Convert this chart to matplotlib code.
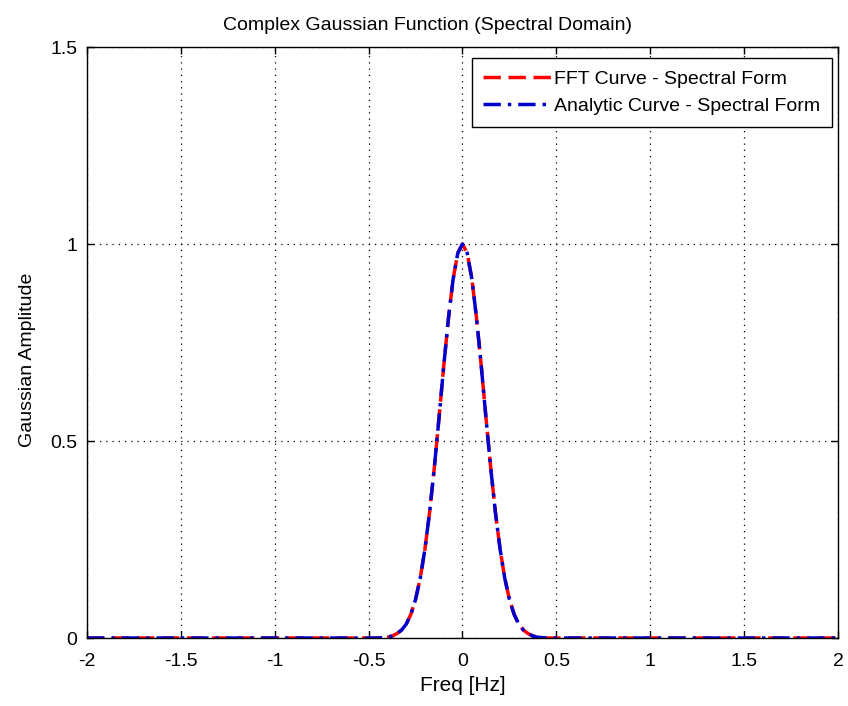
import numpy as np
import matplotlib
matplotlib.use('Agg')
import matplotlib.pyplot as plt

plt.rcParams['font.family'] = ['Liberation Sans', 'DejaVu Sans']

#-------- values --------
freq = [-2.0, -1.0, -0.45, -0.4, -0.375, -0.35, -0.325, -0.3, -0.275, -0.25,
        -0.225, -0.2, -0.175, -0.15, -0.125, -0.1, -0.075, -0.05, -0.025, 0.0,
        0.025, 0.05, 0.075, 0.1, 0.125, 0.15, 0.175, 0.2, 0.225, 0.25,
        0.275, 0.3, 0.325, 0.35, 0.375, 0.4, 0.45, 1.0, 2.0]
fft_amp = [0.0, 0.0, 0.0, 0.002, 0.005, 0.011, 0.020, 0.035, 0.060, 0.098,
           0.152, 0.226, 0.320, 0.433, 0.559, 0.690, 0.811, 0.911, 0.977, 1.0,
           0.977, 0.911, 0.811, 0.690, 0.559, 0.433, 0.320, 0.226, 0.152, 0.098,
           0.060, 0.035, 0.020, 0.011, 0.005, 0.002, 0.0, 0.0, 0.0]
analytic_amp = list(fft_amp)

x_ticks = [-2, -1.5, -1, -0.5, 0, 0.5, 1, 1.5, 2]
x_tick_labels = ['-2', '-1.5', '-1', '-0.5', '0', '0.5', '1', '1.5', '2']
y_ticks = [0, 0.5, 1, 1.5]
y_tick_labels = ['0', '0.5', '1', '1.5']

#-------- figure --------
fig = plt.figure(figsize=(8.48, 7.06), dpi=100)
ax = fig.add_axes([0.1026, 0.0963, 0.8856, 0.8371])

ax.plot(freq, fft_amp, color='red', linestyle='--', linewidth=2.5,
        dashes=(5, 2.2), label='FFT Curve - Spectral Form')
ax.plot(freq, analytic_amp, color='#0000cc', linestyle='-.', linewidth=2.5,
        dashes=(5, 2, 1, 2), label='Analytic Curve - Spectral Form')

ax.set_xlim(-2, 2)
ax.set_ylim(0, 1.5)
ax.set_xticks(x_ticks)
ax.set_xticklabels(x_tick_labels)
ax.set_yticks(y_ticks)
ax.set_yticklabels(y_tick_labels)
ax.tick_params(direction='in', top=True, right=True, length=5, width=1,
               labelsize=14)
ax.tick_params(axis='x', pad=11)
ax.tick_params(axis='y', pad=7)
ax.grid(True, color='black', linestyle=(0, (1, 4)), linewidth=0.9)
for s in ax.spines.values():
    s.set_linewidth(1.0)

ax.set_title('Complex Gaussian Function (Spectral Domain)', fontsize=14,
             pad=12, x=0.454)
ax.set_xlabel('Freq [Hz]', fontsize=15, labelpad=4)
ax.set_ylabel('Gaussian Amplitude', fontsize=14)
ax.yaxis.set_label_coords(-0.068, 0.47)

leg = ax.legend(loc='upper right', fontsize=14, fancybox=False, framealpha=1,
                edgecolor='black', handlelength=3.5, handletextpad=0.15,
                borderpad=0.6, labelspacing=0.5, borderaxespad=0,
                bbox_to_anchor=(0.992, 0.981))
leg.get_frame().set_linewidth(1.0)

fig.savefig('out.png', dpi=100)
